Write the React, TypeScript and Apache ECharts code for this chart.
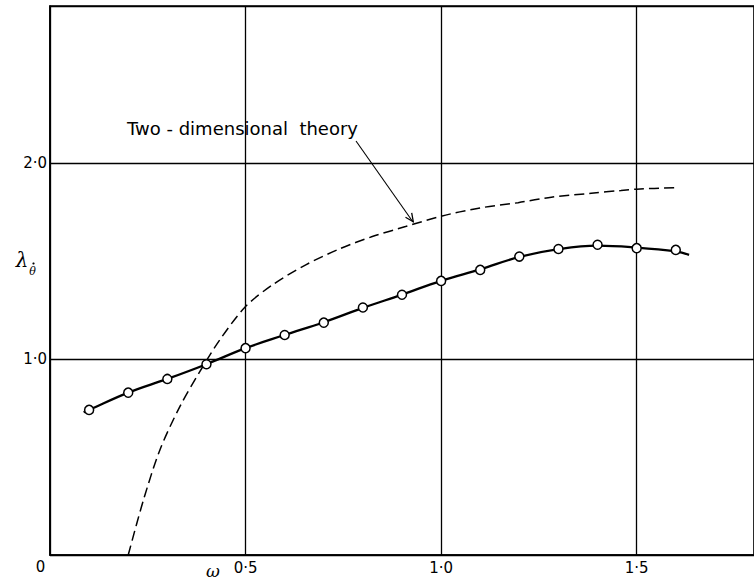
import React, { useEffect, useRef } from "react";
import * as echarts from "echarts";

const circleX = [0.1, 0.2, 0.3, 0.4, 0.5, 0.6, 0.7, 0.8, 0.9, 1.0, 1.1, 1.2, 1.3, 1.4, 1.5, 1.6];
const circleY = [0.74, 0.828, 0.898, 0.973, 1.055, 1.122, 1.185, 1.262, 1.327, 1.398, 1.454, 1.522, 1.561, 1.582, 1.565, 1.556];

const curveX = [0.086, 0.1, 0.2, 0.3, 0.4, 0.5, 0.6, 0.7, 0.8, 0.9, 1.0, 1.1, 1.2, 1.3, 1.4, 1.5, 1.6, 1.634];
const curveY = [0.728, 0.74, 0.828, 0.898, 0.973, 1.055, 1.122, 1.187, 1.26, 1.328, 1.398, 1.457, 1.52, 1.56, 1.578, 1.568, 1.548, 1.531];

const theoryX = [0.2, 0.239, 0.281, 0.332, 0.383, 0.434, 0.5, 0.569, 0.654, 0.739, 0.824, 0.909, 1.0, 1.096, 1.197, 1.282, 1.384, 1.46, 1.5, 1.604];
const theoryY = [0.0, 0.281, 0.536, 0.757, 0.935, 1.097, 1.267, 1.378, 1.48, 1.56, 1.624, 1.675, 1.728, 1.769, 1.797, 1.825, 1.845, 1.859, 1.866, 1.874];

const xTickLabels: Record<string, string> = { "0.5": "0·5", "1": "1·0", "1.5": "1·5" };
const yTickLabels: Record<string, string> = { "1": "1·0", "2": "2·0" };

const annotationText = "Two - dimensional  theory";

export default function App() {
  const ref = useRef<HTMLDivElement>(null);
  useEffect(() => {
    document.body.style.margin = "0";
    const chart = echarts.init(ref.current!, undefined, { renderer: "svg" });
    const font = "DejaVu Sans";
    chart.setOption({
      animation: false,
      backgroundColor: "#ffffff",
      grid: { left: 50, right: -2, top: 6, bottom: 26, show: true, borderColor: "#000", borderWidth: 1.6 },
      xAxis: {
        type: "value",
        min: 0,
        max: 1.8,
        interval: 0.5,
        axisLine: { show: true, lineStyle: { color: "#000", width: 1.6 } },
        axisTick: { show: false },
        splitLine: { show: true, lineStyle: { color: "#000", width: 1.3 } },
        axisLabel: {
          showMaxLabel: false,
          margin: 5,
          color: "#000",
          fontFamily: font,
          fontSize: 15,
          formatter: (v: number) => xTickLabels[String(v)] || "",
        },
      },
      yAxis: {
        type: "value",
        min: 0,
        max: 2.8,
        interval: 1,
        axisLine: { show: true, lineStyle: { color: "#000", width: 1.6 } },
        axisTick: { show: false },
        splitLine: { show: true, lineStyle: { color: "#000", width: 1.3 } },
        axisLabel: {
          showMaxLabel: false,
          margin: 3,
          color: "#000",
          fontFamily: font,
          fontSize: 15,
          formatter: (v: number) => yTickLabels[String(v)] || "",
        },
      },
      series: [
        {
          type: "line",
          data: theoryX.map((x, i) => [x, theoryY[i]]),
          smooth: 0.3,
          symbol: "none",
          lineStyle: { color: "#000", width: 1.5, type: [10, 5] },
          z: 3,
        },
        {
          type: "line",
          data: curveX.map((x, i) => [x, curveY[i]]),
          smooth: 0.4,
          symbol: "none",
          lineStyle: { color: "#000", width: 2.3 },
          z: 4,
        },
        {
          type: "scatter",
          data: circleX.map((x, i) => [x, circleY[i]]),
          symbol: "circle",
          symbolSize: 9,
          itemStyle: { color: "#fff", borderColor: "#000", borderWidth: 1.5, opacity: 1 },
          z: 5,
        },
      ],
      graphic: [
        { type: "text", x: 40.5, y: 567, style: { text: "0", fill: "#000", font: `15px "${font}"`, align: "center", verticalAlign: "middle" } },
        { type: "text", x: 213, y: 571, style: { text: "ω", fill: "#000", font: `italic 17px "DejaVu Serif"`, align: "center", verticalAlign: "middle" } },
        { type: "text", x: 22, y: 260, style: { text: "λ", fill: "#000", font: `italic 20px "DejaVu Serif"`, align: "center", verticalAlign: "middle" } },
        { type: "text", x: 32.5, y: 271, style: { text: "θ", fill: "#000", font: `italic 11px "DejaVu Serif"`, align: "center", verticalAlign: "middle" } },
        { type: "circle", shape: { cx: 33.5, cy: 263.5, r: 1.1 }, style: { fill: "#000" } },
        { type: "text", x: 127, y: 128, style: { text: annotationText, fill: "#000", font: `18px "${font}"`, align: "left", verticalAlign: "middle" } },
        { type: "line", shape: { x1: 356, y1: 141, x2: 413, y2: 222 }, style: { stroke: "#000", lineWidth: 1.1 } },
        { type: "polyline", shape: { points: [[411.7, 212.8], [413.3, 221.7], [405.5, 217.2]] }, style: { stroke: "#000", lineWidth: 1.3, fill: "none" } },
      ],
    });
    return () => chart.dispose();
  }, []);
  return <div ref={ref} style={{ width: 754, height: 581 }} />;
}
